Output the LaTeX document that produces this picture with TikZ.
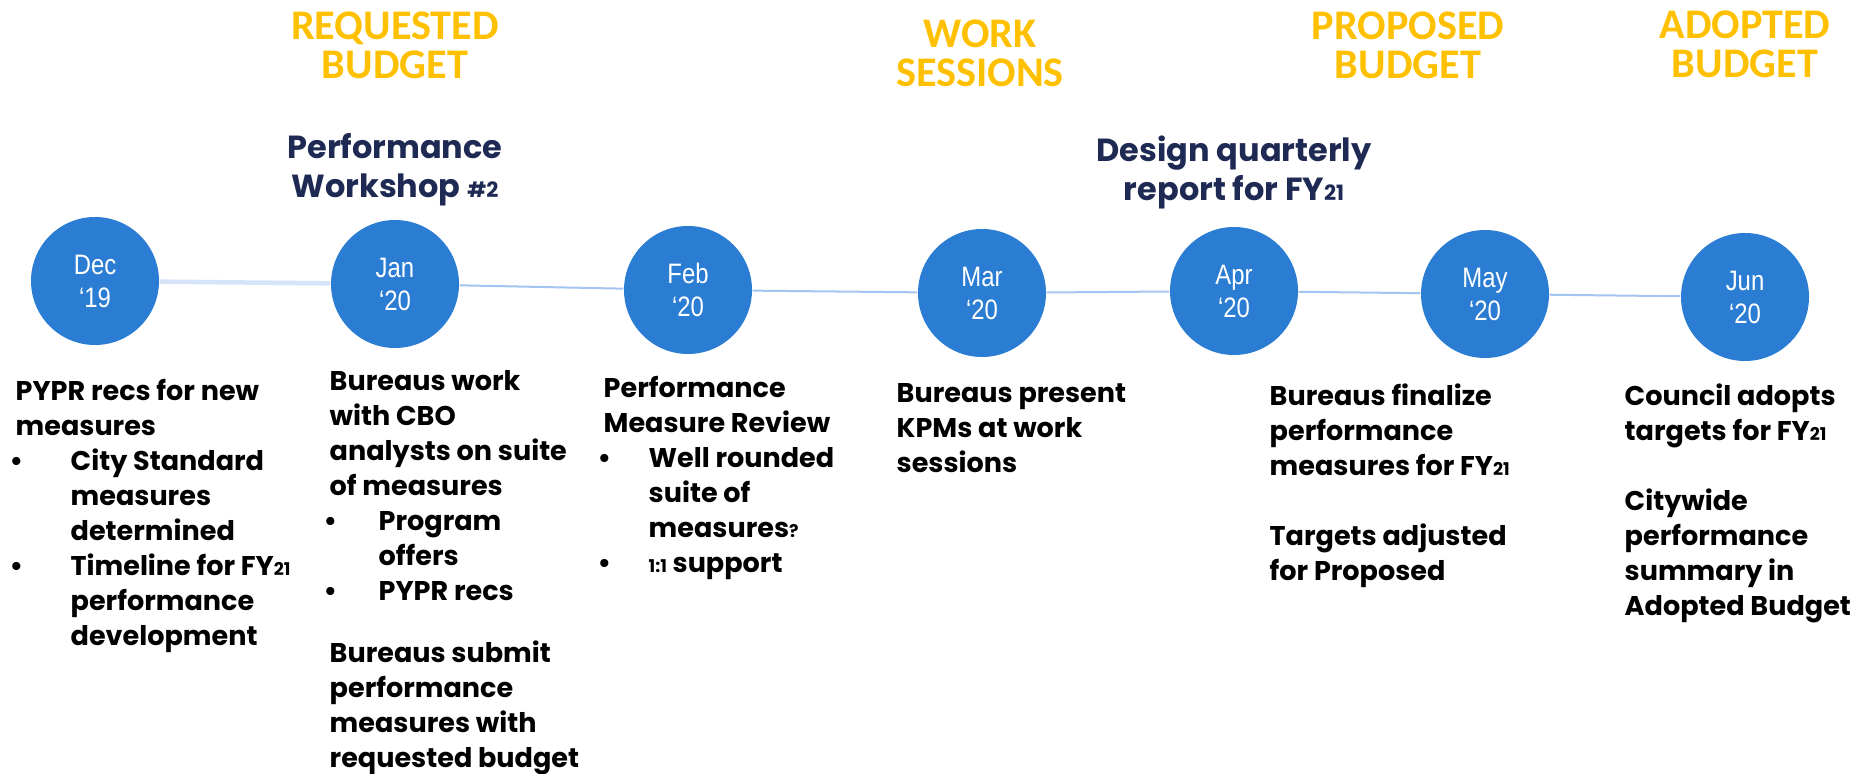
\documentclass[tikz,border=0pt]{standalone}
\usepackage{fontspec}
\newfontfamily\notefont{Poppins}
\newfontfamily\headfont{Carlito}
\newfontfamily\monthfont{Liberation Sans}[FakeStretch=0.85]
\definecolor{budgetgold}{RGB}{255,192,0}
\definecolor{navy}{RGB}{31,42,84}
\definecolor{monthblue}{RGB}{43,125,211}
\definecolor{linkblue}{RGB}{164,196,242}
\definecolor{palelink}{RGB}{214,228,250}
\newcommand{\smnum}[2][5]{{\fontsize{#1}{#1}\selectfont #2}}
\newcommand{\bul}[1][4.9mm]{\makebox[#1][l]{\hspace*{-0.6mm}\textbullet}}
\newcommand{\ind}[1][4.9mm]{\hspace*{#1}}

\begin{document}
\begin{tikzpicture}[x=0.1mm, y=-0.1mm,
  month node/.style={circle, fill=monthblue, minimum size=12.8mm, inner sep=0pt,
    text=white, align=center, font=\monthfont\fontsize{8}{9.4}\selectfont},
  budget node/.style={text=budgetgold, align=center,
    font=\headfont\bfseries\fontsize{12}{11.1}\selectfont},
  event node/.style={text=navy, align=center,
    font=\notefont\bfseries\fontsize{9.1}{11.1}\selectfont},
  note node/.style={anchor=north west, align=left, inner sep=0pt,
    font=\notefont\bfseries\fontsize{7.7}{9.96}\selectfont},
  link/.style={draw=linkblue, line width=0.2mm}]
\fill[white] (0,0) rectangle (1861,774);
\useasboundingbox (0,0) rectangle (1861,774);

\node[budget node] (requested) at (395,45)  {REQUESTED\\BUDGET};
\node[budget node] (sessions)  at (980,53)  {WORK\\SESSIONS};
\node[budget node] (proposed)  at (1408,45) {PROPOSED\\BUDGET};
\node[budget node] (adopted)   at (1745,44) {ADOPTED\\BUDGET};

\node[event node] (workshop)  at (395,170)  {Performance\\Workshop \smnum[6]{\#2}};
\node[event node] (quarterly) at (1234,172) {Design quarterly\\report for FY\smnum[6]{21}};

\node[month node] (dec) at (95,281)   {Dec\\‘19};
\node[month node] (jan) at (395,284)  {Jan\\‘20};
\node[month node] (feb) at (688,290)  {Feb\\‘20};
\node[month node] (mar) at (982,293)  {Mar\\‘20};
\node[month node] (apr) at (1234,291) {Apr\\‘20};
\node[month node] (may) at (1485,294) {May\\‘20};
\node[month node] (jun) at (1745,297) {Jun\\‘20};
\path
(dec) edge[link, draw=palelink, line width=0.45mm] (jan)
(jan) edge[link] (feb)
(feb) edge[link] (mar)
(mar) edge[link] (apr)
(apr) edge[link] (may)
(may) edge[link] (jun);

\node[note node] (dectxt) at (15,379) {PYPR recs for new\\measures\\\bul[5.5mm]City Standard\\\ind[5.5mm]measures\\\ind[5.5mm]determined\\\bul[5.5mm]Timeline for FY\smnum{21}\\\ind[5.5mm]performance\\\ind[5.5mm]development};
\node[note node] (jantxt) at (329,370) {Bureaus work\\with CBO\\analysts on suite\\of measures\\\bul Program\\\ind offers\\\bul PYPR recs\\[2.7mm]Bureaus submit\\performance\\measures with\\requested budget};
\node[note node] (febtxt) at (603,376) {Performance\\Measure Review\\\bul[4.5mm]Well rounded\\\ind[4.5mm]suite of\\\ind[4.5mm]measures\smnum{?}\\\bul[4.5mm]\smnum{1:1} support};
\node[note node] (martxt) at (896,383) {Bureaus present\\KPMs at work\\sessions};
\node[note node] (maytxt) at (1269,383) {Bureaus finalize\\performance\\measures for FY\smnum{21}\\[3.5mm]Targets adjusted\\for Proposed};
\node[note node] (juntxt) at (1624,383) {Council adopts\\targets for FY\smnum{21}\\[3.5mm]Citywide\\performance\\summary in\\Adopted Budget};
\end{tikzpicture}
\end{document}
